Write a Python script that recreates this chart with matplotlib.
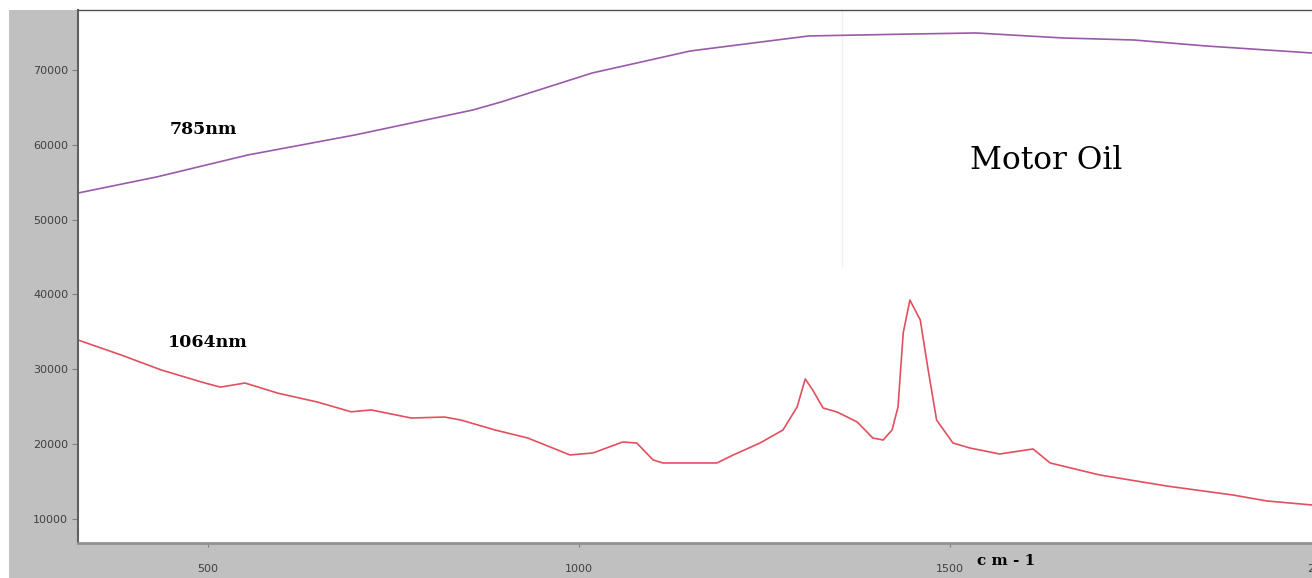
import matplotlib
matplotlib.use("Agg")
import matplotlib.pyplot as plt
from matplotlib.patches import Rectangle

# wavenumber (cm-1) and intensity
wn_785 = [325, 431, 554, 698, 857, 895, 1018, 1150, 1245, 1310, 1449, 1535,
          1652, 1748, 1845, 1988]
int_785 = [53550, 55700, 58640, 61310, 64650, 65720, 69600, 72540, 73740,
           74550, 74810, 74950, 74280, 74010, 73210, 72270]

wn_1064 = [325, 383, 437, 496, 517, 550, 594, 648, 693, 720, 774, 819, 841,
           887, 931, 988, 1019, 1059, 1078, 1100, 1113, 1186, 1208, 1244,
           1275, 1294, 1305, 1315, 1329, 1348, 1375, 1396, 1410, 1422, 1430,
           1437, 1446, 1460, 1470, 1482, 1504, 1527, 1567, 1612, 1635, 1702,
           1792, 1881, 1927, 1988]
int_1064 = [33900, 31900, 29900, 28150, 27600, 28150, 26800, 25600, 24300,
            24550, 23470, 23600, 23200, 21870, 20800, 18530, 18800, 20260,
            20130, 17860, 17460, 17460, 18530, 20130, 21870, 24940, 28690,
            27220, 24810, 24270, 22940, 20800, 20530, 21870, 24940, 34840,
            39250, 36580, 30290, 23200, 20130, 19460, 18660, 19330, 17460,
            15850, 14380, 13180, 12380, 11840]

x_ticks = [500, 1000, 1500, 2000]
y_ticks = [10000, 20000, 30000, 40000, 50000, 60000, 70000]

W, H = 1312, 578
fig = plt.figure(figsize=(W / 100, H / 100), dpi=100, facecolor="white")

# grey panel behind the plot
fig.patches.append(Rectangle((9 / W, 0), 1, 1 - 10 / H, transform=fig.transFigure,
                             facecolor="#c0c0c0", edgecolor="none", zorder=-10))

ax = fig.add_axes([78 / W, 35 / H, (1321 - 78) / W, (543 - 10) / H])
ax.set_facecolor("white")
ax.set_xlim(325, 2000)
ax.set_ylim(6760, 78020)

# faint cursor line
ax.axvline(1354, ymin=0.52, ymax=1, color="#f0f0f0", lw=1, zorder=0)

ax.plot(wn_785, int_785, color="#9a5aaa", lw=1.2)
ax.plot(wn_1064, int_1064, color="#e2505e", lw=1.2)

ax.set_xticks(x_ticks)
ax.set_yticks(y_ticks)
ax.tick_params(axis="both", labelsize=8, labelcolor="#404040", color="#808080",
               direction="out")
ax.tick_params(axis="x", length=3, pad=12)
ax.tick_params(axis="y", length=4, pad=3)

ax.spines["left"].set_color("#606060")
ax.spines["left"].set_linewidth(1.5)
ax.spines["bottom"].set_color("#909090")
ax.spines["bottom"].set_linewidth(2)
ax.spines["top"].set_color("#505050")
ax.spines["top"].set_linewidth(1)
ax.spines["right"].set_visible(False)

ax.text(449, 62110, "785nm", family="DejaVu Serif", fontweight="bold",
        fontsize=12.5, va="center", ha="left")
ax.text(446, 33630, "1064nm", family="DejaVu Serif", fontweight="bold",
        fontsize=12.5, va="center", ha="left")
ax.text(1527, 57900, "Motor Oil", family="DejaVu Serif", fontsize=22.5,
        va="center", ha="left")

fig.text(977 / W, 1 - 561 / H, "c m - 1", family="DejaVu Serif", fontweight="bold",
         fontsize=11, va="center", ha="left")

fig.savefig("out.png", dpi=100, facecolor=fig.get_facecolor())
